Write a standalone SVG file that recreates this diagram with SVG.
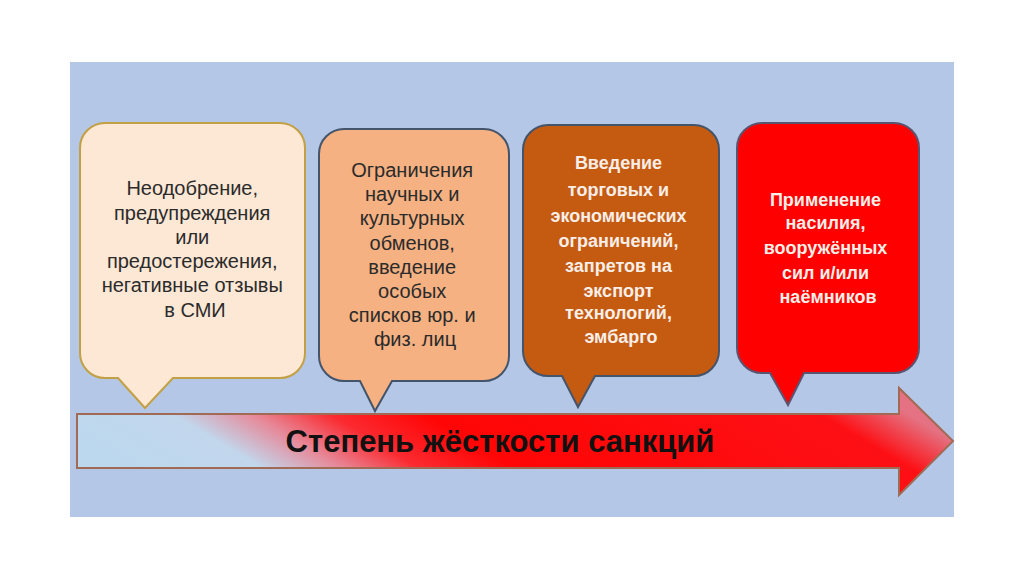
<svg xmlns="http://www.w3.org/2000/svg" width="1024" height="576" viewBox="0 0 1024 576">
  <defs>
    <style>
      .t { font-family: "Liberation Sans", Arial, sans-serif; font-size: 20px; text-anchor: middle; }
      .dark { fill: #2b2b2b; }
      .light { fill: #f7eee8; font-weight: bold; font-size: 18px; }
      .title { font-family: "Liberation Sans", Arial, sans-serif; font-size: 31px; font-weight: bold; fill: #111; text-anchor: middle; }
      .box { stroke-width: 2; }
    </style>
    <linearGradient id="arrowGrad" x1="77" y1="441" x2="308" y2="55" gradientUnits="userSpaceOnUse">
      <stop offset="0" stop-color="#bcd8ee"/>
      <stop offset="0.16" stop-color="#c2d6ec"/>
      <stop offset="0.25" stop-color="#e68a9a"/>
      <stop offset="0.34" stop-color="#fb2a30"/>
      <stop offset="0.45" stop-color="#ff0505"/>
      <stop offset="0.9" stop-color="#fd1015"/>
      <stop offset="1.0" stop-color="#e47282"/>
    </linearGradient>
  </defs>
  <rect x="0" y="0" width="1024" height="576" fill="#ffffff"/>
  <rect x="70" y="62" width="884" height="455" fill="#b4c7e6"/>

  <g id="connectors">
    <g id="arrow">
      <path d="M77,414 H899 V388 L953,441 L899,495 V468 H77 Z" fill="url(#arrowGrad)" stroke="#a06a55" stroke-width="2"/>
      <text class="title" x="500" y="452">Степень жёсткости санкций</text>
    </g>
  </g>

  <g id="node1">
    <path class="box" d="M105,123 H280 A25,25 0 0 1 305,148 V353 A25,25 0 0 1 280,378 H173 L145,408 L118,378 H105 A25,25 0 0 1 80,353 V148 A25,25 0 0 1 105,123 Z" fill="#fde7d5" stroke="#c2a044"/>
    <text class="t dark">
      <tspan x="195" y="195">Неодобрение,</tspan>
      <tspan x="195" y="220">предупреждения</tspan>
      <tspan x="195" y="244">или</tspan>
      <tspan x="195" y="268">предостережения,</tspan>
      <tspan x="195" y="292">негативные  отзывы</tspan>
      <tspan x="195" y="317">в СМИ</tspan>
    </text>
  </g>

  <g id="node2">
    <path class="box" d="M344,129 H484 A25,25 0 0 1 509,154 V356 A25,25 0 0 1 484,381 H392 L375,411 L360,381 H344 A25,25 0 0 1 319,356 V154 A25,25 0 0 1 344,129 Z" fill="#f5b182" stroke="#44546a"/>
    <text class="t dark">
      <tspan x="415" y="177">Ограничения</tspan>
      <tspan x="415" y="201">научных и</tspan>
      <tspan x="415" y="225">культурных</tspan>
      <tspan x="415" y="250">обменов,</tspan>
      <tspan x="415" y="274">введение</tspan>
      <tspan x="415" y="298">особых</tspan>
      <tspan x="415" y="322">списков юр. и</tspan>
      <tspan x="415" y="346">физ. лиц</tspan>
    </text>
  </g>

  <g id="node3">
    <path class="box" d="M548,125 H694 A25,25 0 0 1 719,150 V351 A25,25 0 0 1 694,376 H595 L578,407 L562,376 H548 A25,25 0 0 1 523,351 V150 A25,25 0 0 1 548,125 Z" fill="#c55a11" stroke="#44546a"/>
    <text class="t light">
      <tspan x="621" y="169">Введение</tspan>
      <tspan x="621" y="196">торговых и</tspan>
      <tspan x="621" y="222">экономических</tspan>
      <tspan x="621" y="247">ограничений,</tspan>
      <tspan x="621" y="272">запретов на</tspan>
      <tspan x="621" y="297">экспорт</tspan>
      <tspan x="621" y="319">технологий,</tspan>
      <tspan x="621" y="343">эмбарго</tspan>
    </text>
  </g>

  <g id="node4">
    <path class="box" d="M762,123 H894 A25,25 0 0 1 919,148 V348 A25,25 0 0 1 894,373 H804 L788,405 L770,373 H762 A25,25 0 0 1 737,348 V148 A25,25 0 0 1 762,123 Z" fill="#fe0000" stroke="#5b5470"/>
    <text class="t light">
      <tspan x="828" y="206">Применение</tspan>
      <tspan x="828" y="229">насилия,</tspan>
      <tspan x="828" y="254">вооружённых</tspan>
      <tspan x="828" y="279">сил и/или</tspan>
      <tspan x="828" y="303">наёмников</tspan>
    </text>
  </g>
</svg>
